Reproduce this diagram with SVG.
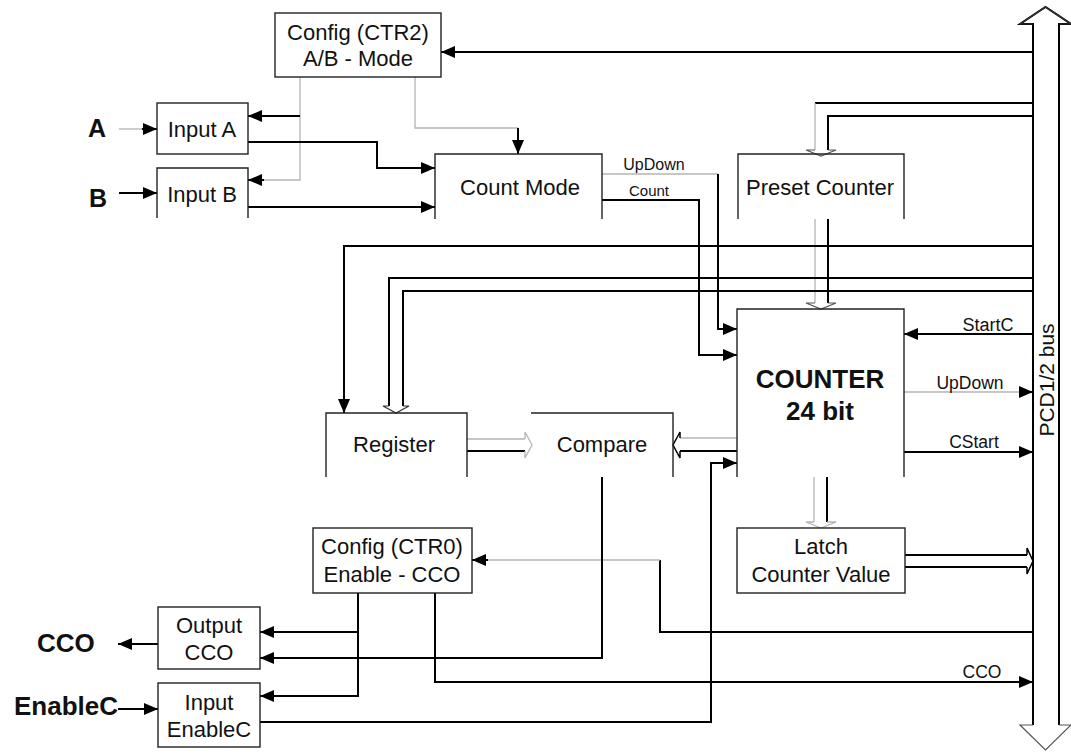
<svg xmlns="http://www.w3.org/2000/svg" width="1071" height="753" viewBox="0 0 1071 753">
<defs>
<marker id="ah" markerUnits="userSpaceOnUse" markerWidth="14" markerHeight="12" refX="14" refY="6" orient="auto" viewBox="0 0 14 12"><path d="M0,0 L14,6 L0,12 z" fill="#000"/></marker>
</defs>
<style>
.box{fill:#fff;stroke:#222;stroke-width:1.4}
.open{fill:none;stroke:#222;stroke-width:1.4}
.t{font-family:"Liberation Sans",Arial,sans-serif;font-size:22px;fill:#111;text-anchor:middle}
.b{font-family:"Liberation Sans",Arial,sans-serif;font-weight:bold;fill:#111}
.s{font-family:"Liberation Sans",Arial,sans-serif;fill:#111;text-anchor:middle}
.k{fill:none;stroke:#000;stroke-width:2}
.g{fill:none;stroke:#b4b4b4;stroke-width:1.3}
.ka{fill:none;stroke:#000;stroke-width:2;marker-end:url(#ah)}
.ga{fill:none;stroke:#b4b4b4;stroke-width:1.3;marker-end:url(#ah)}
.hg{fill:#fff;stroke:#b4b4b4;stroke-width:1.3}
.hk{fill:#fff;stroke:#000;stroke-width:1.5}
</style>
<rect width="1071" height="753" fill="#fff"/>

<g id="connectors">
<!-- bus to config ctr2 -->
<path class="ka" d="M1033,52 H441"/>
<!-- config ctr2 to inputs -->
<path class="g" d="M300,77 V180 H262"/>
<path class="ka" d="M264,180 H248"/>
<path class="ka" d="M300,116 H248"/>
<path class="g" d="M415,77 V128 H518"/>
<path class="ka" d="M518,128 V154"/>
<!-- external inputs -->
<path class="g" d="M119,129 H144"/>
<path class="ka" d="M142,129 H157"/>
<path class="ka" d="M119,193 H157"/>
<!-- inputs to count mode -->
<path class="ka" d="M248,142 H377 V168 H435"/>
<path class="ka" d="M248,207 H435"/>
<!-- bus to preset counter -->
<path class="k" d="M1033,103 H815"/>
<path class="g" d="M815,103 V150"/>
<path class="k" d="M1033,116 H828 V150"/>
<path class="hk" d="M815,150 H806 L821,156 L836,150 H828" style="stroke:#555;stroke-width:1.2"/>
<!-- count mode to counter -->
<path class="g" d="M602,174 H718"/>
<path class="ka" d="M718,174 V329 H737"/>
<path class="ka" d="M602,200 H699 V355 H737"/>
<!-- preset to counter -->
<path class="g" d="M815,219 V303"/>
<path class="k" d="M828,219 V303"/>
<path class="hk" d="M815,303 H806 L821,309 L836,303 H828" style="stroke:#555;stroke-width:1.2"/>
<!-- bus to register -->
<path class="ka" d="M1033,246 H344 V413"/>
<path class="k" d="M1033,278 H389 V406"/>
<path class="k" d="M1033,291 H403 V406"/>
<path class="hk" d="M389,406 H383 L396,413 L409,406 H403" style="stroke:#333;stroke-width:1.2"/>
<!-- register to compare -->
<path class="g" d="M467,439 H525"/>
<path class="k" d="M467,451 H525"/>
<path class="hg" d="M525,439 V432 L532,445 L525,458 V451"/>
<!-- counter to compare -->
<path class="g" d="M737,438 H680"/>
<path class="k" d="M737,451 H680"/>
<path class="hk" d="M680,438 V432 L673,445 L680,458 V451"/>
<!-- counter right side -->
<path class="ka" d="M1033,334 H904"/>
<path class="g" d="M904,392 H1022"/>
<path class="ka" d="M1020,392 H1033"/>
<path class="ka" d="M904,452 H1033"/>
<!-- counter to latch -->
<path class="g" d="M814,477 V522"/>
<path class="k" d="M827,477 V522"/>
<path class="hg" d="M814,522 H806 L821,528 L836,522 H827"/>
<!-- latch to bus -->
<path class="k" d="M905,555 H1027"/>
<path class="k" d="M905,567 H1027"/>
<path class="hk" d="M1027,555 V548 L1033,561 L1027,574 V567"/>
<!-- bus to config ctr0 -->
<path class="k" d="M1033,632 H660 V560"/>
<path class="g" d="M660,560 H486"/>
<path class="ka" d="M488,560 H472"/>
<!-- compare to output cco -->
<path class="ka" d="M602,477 V658 H260"/>
<!-- config ctr0 outputs -->
<path class="ka" d="M358,593 V696 H260"/>
<path class="ka" d="M358,632 H260"/>
<path class="ka" d="M435,593 V682 H1033"/>
<!-- enableC to counter -->
<path class="ka" d="M260,722 H711 V463 H737"/>
<!-- external outputs -->
<path class="ka" d="M158,644 H118"/>
<path class="ka" d="M118,709 H158"/>
</g>

<g id="bus">
<path d="M1033,725 V24 H1020 L1045.5,7 L1071,24 H1059 V725 H1071 L1045.5,750 L1020,725 z" fill="#fff" stroke="none"/>
<path d="M1033,725 V24 H1020 L1045.5,7 L1071,24 H1059 V725" fill="none" stroke="#000" stroke-width="2"/>
<path d="M1033,725 H1020 L1045.5,750 L1071,725 H1059" fill="none" stroke="#555" stroke-width="1.2"/>
<path d="M1033,24 H1020 L1045.5,7 L1071,24 H1059" fill="none" stroke="#333" stroke-width="1.2"/>
<text class="s" style="font-size:21px" transform="translate(1054,380) rotate(-90)">PCD1/2 bus</text>
</g>

<g id="config-ctr2">
<rect class="box" x="275" y="13" width="166" height="64"/>
<text class="t" x="358" y="40">Config (CTR2)</text>
<text class="t" x="358" y="66">A/B - Mode</text>
</g>

<g id="input-a">
<rect class="box" x="157" y="103" width="91" height="51"/>
<text class="t" x="202" y="137">Input A</text>
</g>

<g id="input-b">
<path class="open" d="M157,218 V168 H248 V218"/>
<text class="t" x="202" y="202">Input B</text>
</g>

<g id="label-a"><text class="b" x="88" y="137" font-size="25">A</text></g>
<g id="label-b"><text class="b" x="89" y="207" font-size="25">B</text></g>

<g id="count-mode">
<path class="open" d="M435,219 V154 H602 V219"/>
<text class="t" x="520" y="195">Count Mode</text>
<text class="s" x="654" y="170" font-size="16">UpDown</text>
<text class="s" x="649" y="196" font-size="15">Count</text>
</g>

<g id="preset-counter">
<path class="open" d="M738,219 V154 H904 V219"/>
<text class="t" x="820" y="195">Preset Counter</text>
</g>

<g id="counter">
<path class="open" d="M737,477 V309 H904 V477"/>
<text class="b" x="820" y="388" font-size="26" text-anchor="middle">COUNTER</text>
<text class="b" x="820" y="420" font-size="26" text-anchor="middle">24 bit</text>
<text class="s" x="988" y="331" font-size="18">StartC</text>
<text class="s" x="970" y="389" font-size="17.5">UpDown</text>
<text class="s" x="974" y="448" font-size="17.5">CStart</text>
</g>

<g id="register">
<path class="open" d="M326,477 V413 H467 V477"/>
<text class="t" x="394" y="452">Register</text>
</g>

<g id="compare">
<path class="open" d="M531,413 H673 V477"/>
<text class="t" x="602" y="452">Compare</text>
</g>

<g id="latch">
<rect class="box" x="737" y="528" width="168" height="65"/>
<text class="t" x="821" y="554">Latch</text>
<text class="t" x="821" y="582">Counter Value</text>
</g>

<g id="config-ctr0">
<rect class="box" x="313" y="528" width="159" height="65"/>
<text class="t" x="392" y="554">Config (CTR0)</text>
<text class="t" x="392" y="582">Enable - CCO</text>
</g>

<g id="output-cco">
<rect class="box" x="158" y="607" width="102" height="62"/>
<text class="t" x="209" y="633">Output</text>
<text class="t" x="209" y="660">CCO</text>
</g>

<g id="input-enablec">
<rect class="box" x="158" y="683" width="102" height="64"/>
<text class="t" x="209" y="710">Input</text>
<text class="t" x="209" y="737">EnableC</text>
</g>

<g id="label-cco"><text class="b" x="37" y="652" font-size="26">CCO</text></g>
<g id="label-enablec"><text class="b" x="118" y="715" font-size="26" text-anchor="end">EnableC</text></g>
<g id="label-cco-bus"><text class="s" x="982" y="678" font-size="17.5">CCO</text></g>
</svg>
